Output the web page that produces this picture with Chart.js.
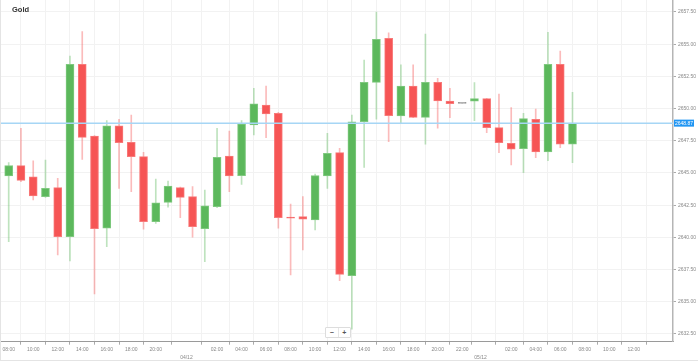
<!DOCTYPE html>
<html>
<head>
<meta charset="utf-8">
<script src="https://cdn.jsdelivr.net/npm/chart.js@4.4.1/dist/chart.umd.min.js"></script>
<style>
html,body{margin:0;padding:0;background:#fff;}
#wrap{position:relative;width:698px;height:361px;overflow:hidden;}
#c{position:absolute;left:0;top:0;}
#frame{position:absolute;left:0;top:0;width:698px;height:361px;box-sizing:border-box;border-left:1px solid #e4e4e4;border-bottom:1px solid #e4e4e4;pointer-events:none;}
#title{position:absolute;left:12px;top:5px;font:bold 7.5px "Liberation Sans",Arial,sans-serif;color:#333;}
#zoom{position:absolute;left:325px;top:327px;width:24px;height:9px;border:1px solid #ddd;border-radius:1px;background:#fff;display:flex;font:bold 7px "Liberation Sans",Arial,sans-serif;color:#555;}
#zoom span{flex:1;text-align:center;line-height:9px;}
#zoom span+span{border-left:1px solid #e6e6e6;}
</style>
</head>
<body>
<div id="wrap">
<canvas id="c" width="698" height="361"></canvas>
<div id="frame"></div>
<div id="title">Gold</div>
<div id="zoom"><span>−</span><span>+</span></div>
</div>
<script>
// Hourly candles (03/12 08:00 -> 05/12 07:00)
const times = ['08:00','09:00','10:00','11:00','12:00','13:00','14:00','15:00','16:00','17:00','18:00','19:00','20:00','21:00','23:00',
  '00:00','01:00','02:00','03:00','04:00','05:00','06:00','07:00','08:00','09:00','10:00','11:00','12:00','13:00','14:00','15:00','16:00','17:00','18:00','19:00','20:00','21:00','22:00','23:00',
  '00:00','01:00','02:00','03:00','04:00','05:00','06:00','07:00'];
const open  = [2644.77,2645.57,2644.71,2643.16,2643.86,2640.05,2653.44,2647.87,2640.71,2648.67,2647.38,2646.27,2641.22,2642.72,2643.86,
  2643.16,2640.68,2642.38,2646.32,2644.79,2648.73,2650.28,2649.63,2641.55,2641.61,2641.35,2644.77,2646.58,2637.03,2648.98,2652.04,2655.46,2649.43,2651.75,2649.32,2652.04,2650.59,2650.41,2650.57,
  2650.77,2648.52,2647.31,2646.89,2649.17,2646.63,2653.44,2647.23];
const high  = [2645.80,2648.47,2645.95,2646.01,2644.59,2654.08,2655.97,2647.90,2649.06,2649.17,2649.50,2646.61,2644.53,2644.38,2643.90,
  2643.94,2643.68,2648.47,2648.26,2649.06,2651.58,2651.75,2649.70,2642.59,2643.16,2644.92,2648.08,2646.92,2649.50,2653.77,2657.50,2655.89,2653.39,2653.39,2655.79,2652.35,2651.58,2650.41,2652.01,
  2650.80,2651.13,2650.07,2649.64,2649.97,2655.92,2654.47,2651.27];
const low   = [2639.67,2644.33,2642.90,2643.10,2638.63,2638.17,2646.06,2635.61,2639.28,2643.81,2643.55,2640.63,2641.09,2642.34,2641.53,
  2640.01,2638.11,2642.30,2643.55,2644.12,2647.95,2647.74,2640.71,2637.08,2639.02,2640.57,2643.81,2636.64,2632.87,2645.44,2649.17,2647.43,2648.86,2649.30,2647.23,2648.47,2649.29,2650.41,2649.06,
  2648.13,2646.58,2645.62,2645.02,2646.19,2645.96,2646.96,2645.80];
const close = [2645.57,2644.43,2643.21,2643.81,2640.05,2653.44,2647.77,2640.68,2648.67,2647.35,2646.27,2641.22,2642.69,2643.99,2643.11,
  2640.83,2642.44,2646.22,2644.77,2648.80,2650.36,2649.58,2641.53,2641.50,2641.41,2644.79,2646.53,2637.13,2648.98,2652.04,2655.38,2649.45,2651.75,2649.32,2652.04,2650.59,2650.38,2650.41,2650.77,
  2648.52,2647.35,2646.84,2649.22,2646.63,2653.44,2647.23,2648.87];
const lastPrice = 2648.87;

// X-axis labels (positions in candle-slot units)
const tickIdx  = [0,2,4,6,8,10,12,14.5,17,19,21,23,25,27,29,31,33,35,37,38.5,41,43,45,47,49,51];
const tickText = ['08:00','10:00','12:00','14:00','16:00','18:00','20:00','04/12','02:00','04:00','06:00','08:00','10:00','12:00','14:00','16:00','18:00','20:00','22:00','05/12','02:00','04:00','06:00','08:00','10:00','12:00'];
const dateLabels = ['04/12','05/12'];
const yTicks = [2632.5,2635,2637.5,2640,2642.5,2645,2647.5,2650,2652.5,2655,2657.5];
const xRange = [-0.71, 54.2];
const yRange = [2631.9, 2658.43];

const GREEN='#5cb85c', RED='#f65555', GRAY='#999999';
const dir = open.map((o,i)=> close[i]>o ? 1 : (close[i]<o ? -1 : 0));
const bodyColor = dir.map(d=> d>0?GREEN:(d<0?RED:GRAY));
const bodyBorder = dir.map(d=> d>0?'#7fc97f':(d<0?'#f87a7a':GRAY));
const wickColor = dir.map(d=> d>0?'rgba(92,184,92,0.4)':(d<0?'rgba(246,85,85,0.4)':'rgba(150,150,150,0.4)'));

const priceLine = {
  id:'priceLine',
  afterDatasetsDraw(chart){
    const {ctx, chartArea:a, scales:{y}} = chart;
    const py = y.getPixelForValue(lastPrice);
    ctx.save();
    ctx.strokeStyle='#a6d6f5'; ctx.lineWidth=1.5;
    ctx.beginPath(); ctx.moveTo(a.left,py); ctx.lineTo(a.right,py); ctx.stroke();
    ctx.restore();
  },
  afterDraw(chart){
    const {ctx, chartArea:a, scales:{y}} = chart;
    const py = y.getPixelForValue(lastPrice);
    ctx.save();
    ctx.fillStyle='#2196f3';
    ctx.fillRect(a.right+1, py-3.5, 20, 7);
    ctx.fillStyle='#fff';
    ctx.font='5px "Liberation Sans", Arial, sans-serif';
    ctx.textAlign='center'; ctx.textBaseline='middle';
    ctx.fillText(lastPrice.toFixed(2), a.right+11, py+0.3);
    ctx.restore();
  }
};

new Chart(document.getElementById('c'), {
  type:'bar',
  data:{
    datasets:[
      {
        label:'wick',
        data: open.map((o,i)=>({x:i, y:[low[i], high[i]]})),
        backgroundColor: wickColor,
        barThickness:1,
        grouped:false,
        order:2
      },
      {
        label:'body',
        data: open.map((o,i)=>({x:i, y:[o, close[i]]})),
        backgroundColor: bodyColor,
        borderColor: bodyBorder,
        borderWidth:1,
        borderSkipped:false,
        barThickness:8,
        minBarLength:1,
        grouped:false,
        order:1
      }
    ]
  },
  plugins:[priceLine],
  options:{
    responsive:false,
    animation:false,
    devicePixelRatio:1,
    layout:{padding:0},
    plugins:{legend:{display:false}, tooltip:{enabled:false}},
    scales:{
      x:{
        type:'linear',
        min:xRange[0], max:xRange[1],
        offset:false,
        afterBuildTicks(s){ s.ticks = tickIdx.map(v=>({value:v})); },
        afterFit(s){ s.height = 19.3; s.paddingLeft = 0; s.paddingRight = 0; },
        ticks:{
          autoSkip:false, maxRotation:0, minRotation:0,
          padding:1,
          color:'#888',
          font:{size:5, family:'"Liberation Sans", Arial, sans-serif', lineHeight:1.6},
          callback(v,i){ const t = tickText[i]; return dateLabels.includes(t) ? ['', t] : t; }
        },
        grid:{color:'#f2f2f2', lineWidth:1, tickLength:3, tickColor:'#aaa'},
        border:{color:'#9a9a9a', width:1}
      },
      y:{
        type:'linear',
        position:'right',
        min:yRange[0], max:yRange[1],
        afterBuildTicks(s){ s.ticks = yTicks.map(v=>({value:v})); },
        afterFit(s){ s.width = 25; s.paddingTop = 0; s.paddingBottom = 0; },
        ticks:{
          padding:2,
          color:'#888',
          font:{size:5, family:'"Liberation Sans", Arial, sans-serif'},
          callback(v){ return Number(v).toFixed(2); }
        },
        grid:{color:'#f2f2f2', lineWidth:1, tickLength:3, tickColor:'#aaa'},
        border:{color:'#b5b5b5', width:1.5}
      }
    }
  }
});
</script>
</body>
</html>
